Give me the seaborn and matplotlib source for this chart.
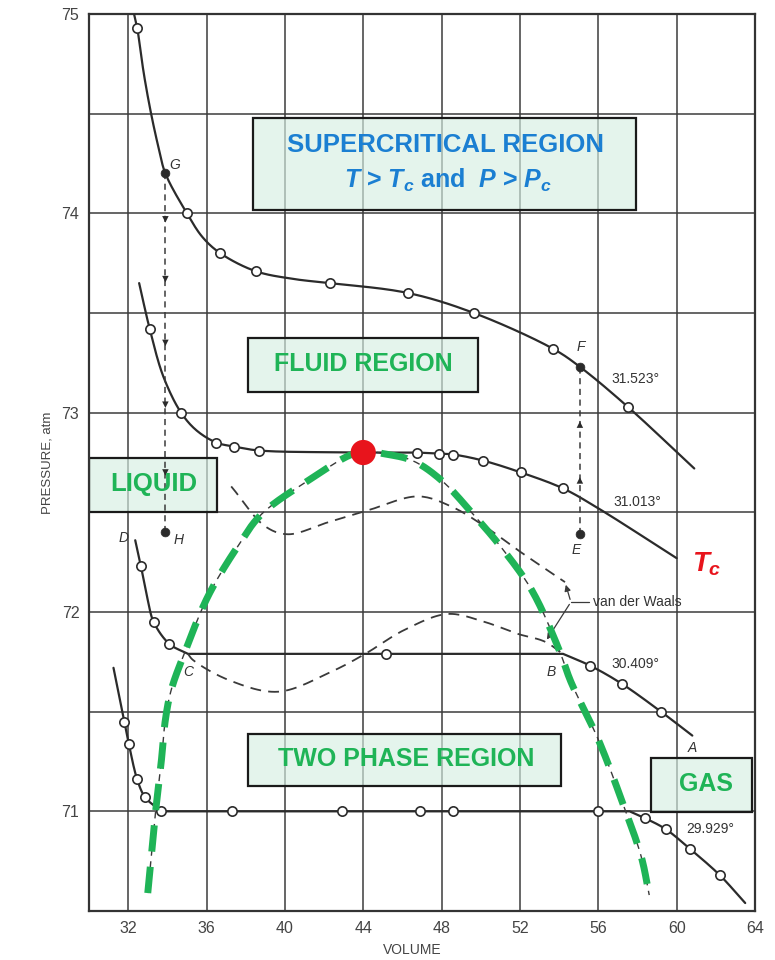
import matplotlib
matplotlib.use("Agg")
import matplotlib.pyplot as plt
from matplotlib.patches import Rectangle
import numpy as np
import pandas as pd
import seaborn as sns

# ---------------- data ----------------
# isotherm 31.523 deg: curve vertices and measured (open-circle) points
iso1_v = [32.30, 32.46, 32.80, 33.17, 33.55, 33.90, 35.00, 35.80, 36.70, 38.50, 40.50, 42.30, 46.30, 49.65, 53.70, 55.06, 57.50, 60.90]
iso1_p = [75.00, 74.93, 74.70, 74.50, 74.33, 74.20, 74.00, 73.88, 73.80, 73.71, 73.67, 73.65, 73.60, 73.50, 73.32, 73.23, 73.03, 72.72]
iso1_pts_v = [32.46, 35.00, 36.70, 38.50, 42.30, 46.30, 49.65, 53.70, 57.50]
iso1_pts_p = [74.93, 74.00, 73.80, 73.71, 73.65, 73.60, 73.50, 73.32, 73.03]

# isotherm 31.013 deg (critical, Tc)
iso2_v = [32.56, 33.10, 33.80, 34.70, 35.50, 36.50, 37.40, 38.70, 44.00, 46.75, 47.85, 48.60, 50.10, 52.05, 54.20, 56.00, 60.00]
iso2_p = [73.65, 73.42, 73.18, 73.00, 72.91, 72.85, 72.83, 72.81, 72.80, 72.80, 72.795, 72.79, 72.76, 72.70, 72.62, 72.52, 72.27]
iso2_pts_v = [33.10, 34.70, 36.50, 37.40, 38.70, 46.75, 47.85, 48.60, 50.10, 52.05, 54.20]
iso2_pts_p = [73.42, 73.00, 72.85, 72.83, 72.81, 72.80, 72.795, 72.79, 72.76, 72.70, 72.62]

# isotherm 30.409 deg
iso3_v = [32.36, 32.65, 33.00, 33.30, 34.10, 35.05, 45.15, 54.20, 55.60, 57.20, 59.20, 60.80]
iso3_p = [72.36, 72.23, 72.06, 71.95, 71.84, 71.79, 71.79, 71.79, 71.73, 71.64, 71.50, 71.38]
iso3_pts_v = [32.65, 33.30, 34.10, 45.15, 55.60, 57.20, 59.20]
iso3_pts_p = [72.23, 71.95, 71.84, 71.79, 71.73, 71.64, 71.50]

# isotherm 29.929 deg
iso4_v = [31.25, 31.80, 32.03, 32.46, 32.87, 33.70, 37.30, 42.90, 46.90, 48.60, 56.00, 57.60, 58.40, 59.45, 60.70, 62.20, 63.50]
iso4_p = [71.72, 71.45, 71.34, 71.16, 71.07, 71.00, 71.00, 71.00, 71.00, 71.00, 71.00, 71.00, 70.965, 70.91, 70.81, 70.68, 70.54]
iso4_pts_v = [31.80, 32.03, 32.46, 32.87, 33.70, 37.30, 42.90, 46.90, 48.60, 56.00, 58.40, 59.45, 60.70, 62.20]
iso4_pts_p = [71.45, 71.34, 71.16, 71.07, 71.00, 71.00, 71.00, 71.00, 71.00, 71.00, 70.965, 70.91, 70.81, 70.68]

iso_labels = ["31.523°", "31.013°", "30.409°", "29.929°"]

# van der Waals loops (dashed)
vdw1_v = [37.26, 38.99, 40.16, 42.20, 44.24, 46.80, 48.48, 50.20, 51.90, 54.30]
vdw1_p = [72.63, 72.43, 72.39, 72.45, 72.51, 72.58, 72.53, 72.43, 72.31, 72.15]
vdw2_v = [35.05, 35.30, 37.10, 39.65, 42.36, 44.10, 46.10, 48.30, 50.20, 51.90, 53.30, 54.30]
vdw2_p = [71.79, 71.76, 71.66, 71.60, 71.70, 71.79, 71.91, 71.99, 71.95, 71.89, 71.85, 71.78]

# two-phase dome (green dashed)
dome_v = [33.00, 33.30, 33.40, 33.70, 33.90, 34.20, 34.90, 36.08, 37.60, 38.80, 41.20, 43.40, 44.00,
          44.75, 46.50, 48.00, 49.70, 51.00, 52.60, 54.00, 54.60, 56.00, 57.25, 58.20, 58.60]
dome_p = [70.59, 70.90, 71.00, 71.26, 71.46, 71.61, 71.80, 72.08, 72.33, 72.49, 72.66, 72.79, 72.80,
          72.80, 72.76, 72.66, 72.48, 72.33, 72.11, 71.81, 71.65, 71.36, 71.04, 70.77, 70.58]

# critical point
crit_v = [44.0]
crit_p = [72.80]

# labelled state points G, H, E, F
state_names = ["G", "H", "E", "F"]
state_v = [33.90, 33.90, 55.06, 55.06]
state_p = [74.20, 72.40, 72.39, 73.23]

# arrowheads on the dashed G->H and E->F paths
gh_arrow_p = [73.97, 73.67, 73.35, 73.04, 72.70]
ef_arrow_p = [72.66, 72.94]

x_ticks = [32, 36, 40, 44, 48, 52, 56, 60, 64]
y_ticks = [71, 72, 73, 74, 75]


def _catmull(P, n=16):
    if len(P) < 3:
        return P
    Q = np.vstack([2 * P[0] - P[1], P, 2 * P[-1] - P[-2]])
    out = [Q[1]]
    for i in range(1, len(Q) - 2):
        p0, p1, p2, p3 = Q[i - 1], Q[i], Q[i + 1], Q[i + 2]

        def tj(ti, a, b):
            return ti + max(np.linalg.norm(b - a), 1e-9) ** 0.5
        t0 = 0.0
        t1 = tj(t0, p0, p1)
        t2 = tj(t1, p1, p2)
        t3 = tj(t2, p2, p3)
        for t in np.linspace(t1, t2, n)[1:]:
            a1 = (t1 - t) / (t1 - t0) * p0 + (t - t0) / (t1 - t0) * p1
            a2 = (t2 - t) / (t2 - t1) * p1 + (t - t1) / (t2 - t1) * p2
            a3 = (t3 - t) / (t3 - t2) * p2 + (t - t2) / (t3 - t2) * p3
            b1 = (t2 - t) / (t2 - t0) * a1 + (t - t0) / (t2 - t0) * a2
            b2 = (t3 - t) / (t3 - t1) * a2 + (t - t1) / (t3 - t1) * a3
            out.append((t2 - t) / (t2 - t1) * b1 + (t - t1) / (t2 - t1) * b2)
    return np.array(out)


def smooth_path(v, p, yscale=10.2):
    """Smooth rendering through the read vertices; horizontal runs stay straight."""
    v = np.asarray(v, float)
    p = np.asarray(p, float)
    P = np.column_stack([v, p * yscale])
    flat = [abs(p[i + 1] - p[i]) < 1e-9 for i in range(len(p) - 1)]
    pieces = []
    start = 0
    i = 0
    while i < len(flat):
        if flat[i]:
            if i > start:
                pieces.append(_catmull(P[start:i + 1]))
            j = i
            while j < len(flat) and flat[j]:
                j += 1
            pieces.append(P[i:j + 1])
            start = j
            i = j
        else:
            i += 1
    if start < len(P) - 1:
        pieces.append(_catmull(P[start:]))
    out = np.vstack(pieces)
    return out[:, 0], out[:, 1] / yscale


# ---------------- styling ----------------
sns.set_theme(style="white")
plt.rcParams["font.family"] = ["Liberation Sans", "DejaVu Sans"]
plt.rcParams["mathtext.fontset"] = "custom"
plt.rcParams["mathtext.rm"] = "Liberation Sans:bold"
plt.rcParams["mathtext.it"] = "Liberation Sans:italic:bold"
plt.rcParams["mathtext.bf"] = "Liberation Sans:bold"

INK = "#2b2b2b"
GREEN = "#1fb457"
BLUE = "#1b7fd2"
RED = "#e8141c"
BOXFACE = "#d6efe3"

fig = plt.figure(figsize=(7.75, 9.6), dpi=100)
ax = fig.add_axes([89 / 775, 1 - 911 / 960, 666 / 775, 897 / 960])
ax.set_xlim(30, 64)
ax.set_ylim(70.5, 75)

ax.set_xticks(x_ticks)
ax.set_yticks(y_ticks)
ax.set_yticks([70.5 + 0.5 * i for i in range(10)], minor=True)
ax.grid(True, which="both", color="#3c3c3c", linewidth=1.1, zorder=0)
ax.set_axisbelow(True)
for s in ax.spines.values():
    s.set_color("#333333")
    s.set_linewidth(1.6)
ax.tick_params(axis="both", which="major", length=4, color="#333333",
               labelsize=11.5, labelcolor="#444444", pad=3)
ax.tick_params(axis="y", which="minor", length=0)
ax.set_xlabel("VOLUME", fontsize=10, color="#444444")
ax.set_ylabel("PRESSURE, atm", fontsize=9.5, color="#444444")
ax.xaxis.set_label_coords(0.485, -0.036)
ax.yaxis.set_label_coords(-0.054, 0.5)

# ---------------- region boxes ----------------
boxes = [
    (38.38, 74.018, 57.92 - 38.38, 74.479 - 74.018),
    (38.12, 73.105, 49.86 - 38.12, 73.376 - 73.105),
    (30.00, 72.504, 36.54 - 30.00, 72.774 - 72.504),
    (38.12, 71.125, 54.09 - 38.12, 71.386 - 71.125),
    (58.68, 70.995, 63.84 - 58.68, 71.266 - 70.995),
]
for (bx, by, bw, bh) in boxes:
    ax.add_patch(Rectangle((bx, by), bw, bh, facecolor=BOXFACE, edgecolor="none",
                           alpha=0.65, zorder=1.5))
    ax.add_patch(Rectangle((bx, by), bw, bh, facecolor="none", edgecolor="#1a1a1a",
                           linewidth=1.6, zorder=1.6))

ax.text(48.2, 74.345, "SUPERCRITICAL REGION", color=BLUE, fontsize=18.5, fontweight="bold",
        ha="center", va="center", zorder=6)
ax.text(48.35, 74.165, r"$T$ > $T_c$ and  $P$ > $P_c$", color=BLUE, fontsize=18, fontweight="bold",
        ha="center", va="center", zorder=6)
ax.text(44.0, 73.245, "FLUID REGION", color=GREEN, fontsize=18, fontweight="bold",
        ha="center", va="center", zorder=6)
ax.text(33.3, 72.64, "LIQUID", color=GREEN, fontsize=18.5, fontweight="bold",
        ha="center", va="center", zorder=6)
ax.text(46.2, 71.265, "TWO PHASE REGION", color=GREEN, fontsize=18, fontweight="bold",
        ha="center", va="center", zorder=6)
ax.text(61.5, 71.135, "GAS", color=GREEN, fontsize=18, fontweight="bold",
        ha="center", va="center", zorder=6)

# ---------------- isotherms ----------------
isos = [(iso1_v, iso1_p, iso1_pts_v, iso1_pts_p),
        (iso2_v, iso2_p, iso2_pts_v, iso2_pts_p),
        (iso3_v, iso3_p, iso3_pts_v, iso3_pts_p),
        (iso4_v, iso4_p, iso4_pts_v, iso4_pts_p)]
for (v, p, pv, pp) in isos:
    sv, sp = smooth_path(v, p)
    df = pd.DataFrame({"V": sv, "P": sp})
    sns.lineplot(data=df, x="V", y="P", sort=False, estimator=None, color=INK,
                 linewidth=1.6, ax=ax, zorder=3)
    dfp = pd.DataFrame({"V": pv, "P": pp})
    sns.scatterplot(data=dfp, x="V", y="P", marker="o", s=45, facecolor="white",
                    edgecolor=INK, linewidth=1.2, ax=ax, zorder=4)

# van der Waals loops
for (v, p) in [(vdw1_v, vdw1_p), (vdw2_v, vdw2_p)]:
    sv, sp = smooth_path(v, p)
    sns.lineplot(data=pd.DataFrame({"V": sv, "P": sp}), x="V", y="P", sort=False,
                 estimator=None, color="#3a3a3a", linewidth=1.3,
                 linestyle=(0, (6, 4)), ax=ax, zorder=3)

# thin dashed saturation curve under the green dome
dv, dp = smooth_path(dome_v, dome_p)
sns.lineplot(data=pd.DataFrame({"V": dv, "P": dp}), x="V", y="P", sort=False,
             estimator=None, color="#3a3a3a", linewidth=1.0, linestyle=(0, (5, 4)),
             ax=ax, zorder=3)
# green dome
sns.lineplot(data=pd.DataFrame({"V": dv, "P": dp}), x="V", y="P", sort=False,
             estimator=None, color=GREEN, linewidth=5, linestyle=(0, (3.8, 2.2)),
             ax=ax, zorder=5)

# G->H and E->F dashed verticals
sns.lineplot(data=pd.DataFrame({"V": state_v[:2], "P": state_p[:2]}), x="V", y="P",
             sort=False, estimator=None, color="#3a3a3a", linewidth=1.1,
             linestyle=(0, (4, 3)), ax=ax, zorder=3)
sns.lineplot(data=pd.DataFrame({"V": state_v[2:], "P": state_p[2:]}), x="V", y="P",
             sort=False, estimator=None, color="#3a3a3a", linewidth=1.1,
             linestyle=(0, (4, 3)), ax=ax, zorder=3)
sns.scatterplot(x=[state_v[0]] * len(gh_arrow_p), y=gh_arrow_p, marker="v", s=22,
                color="#2b2b2b", edgecolor="none", ax=ax, zorder=4)
sns.scatterplot(x=[state_v[2]] * len(ef_arrow_p), y=ef_arrow_p, marker="^", s=22,
                color="#2b2b2b", edgecolor="none", ax=ax, zorder=4)
sns.scatterplot(x=state_v, y=state_p, marker="o", s=40, color="#2b2b2b",
                edgecolor="#2b2b2b", ax=ax, zorder=4)

# critical point
sns.scatterplot(x=crit_v, y=crit_p, marker="o", s=330, color=RED, edgecolor="none",
                ax=ax, zorder=7)

# van der Waals bracket
ax.annotate("", xy=(vdw1_v[-1], vdw1_p[-1]), xytext=(54.6, 72.05),
            arrowprops=dict(arrowstyle="-|>", color="#3a3a3a", lw=0.9, mutation_scale=9), zorder=4)
ax.annotate("", xy=(vdw2_v[-2], vdw2_p[-2]), xytext=(54.6, 72.05),
            arrowprops=dict(arrowstyle="-|>", color="#3a3a3a", lw=0.9, mutation_scale=9), zorder=4)
ax.plot([54.6, 55.5], [72.05, 72.05], color="#3a3a3a", lw=0.9, zorder=4)
ax.text(55.75, 72.05, "van der Waals", fontsize=10, color="#333333", ha="left", va="center", zorder=6)

# isotherm temperature labels
label_pos = [(57.9, 73.17), (58.0, 72.55), (57.9, 71.74), (61.7, 70.91)]
for lab, (lx, ly) in zip(iso_labels, label_pos):
    ax.text(lx, ly, lab, fontsize=10, color="#333333", ha="center", va="center", zorder=6)

# Tc label
ax.text(61.55, 72.24, r"$T_c$", fontsize=20, color=RED, ha="center", va="center", zorder=6)

# letter labels
letters = [("G", 34.35, 74.24), ("H", 34.55, 72.36), ("D", 31.75, 72.37), ("C", 35.05, 71.70),
           ("B", 53.6, 71.70), ("A", 60.8, 71.32), ("E", 54.85, 72.31), ("F", 55.1, 73.33)]
for (t, lx, ly) in letters:
    ax.text(lx, ly, t, fontsize=10, style="italic", color="#333333", ha="center", va="center", zorder=6)

fig.savefig("out.png", dpi=100, facecolor="white")
